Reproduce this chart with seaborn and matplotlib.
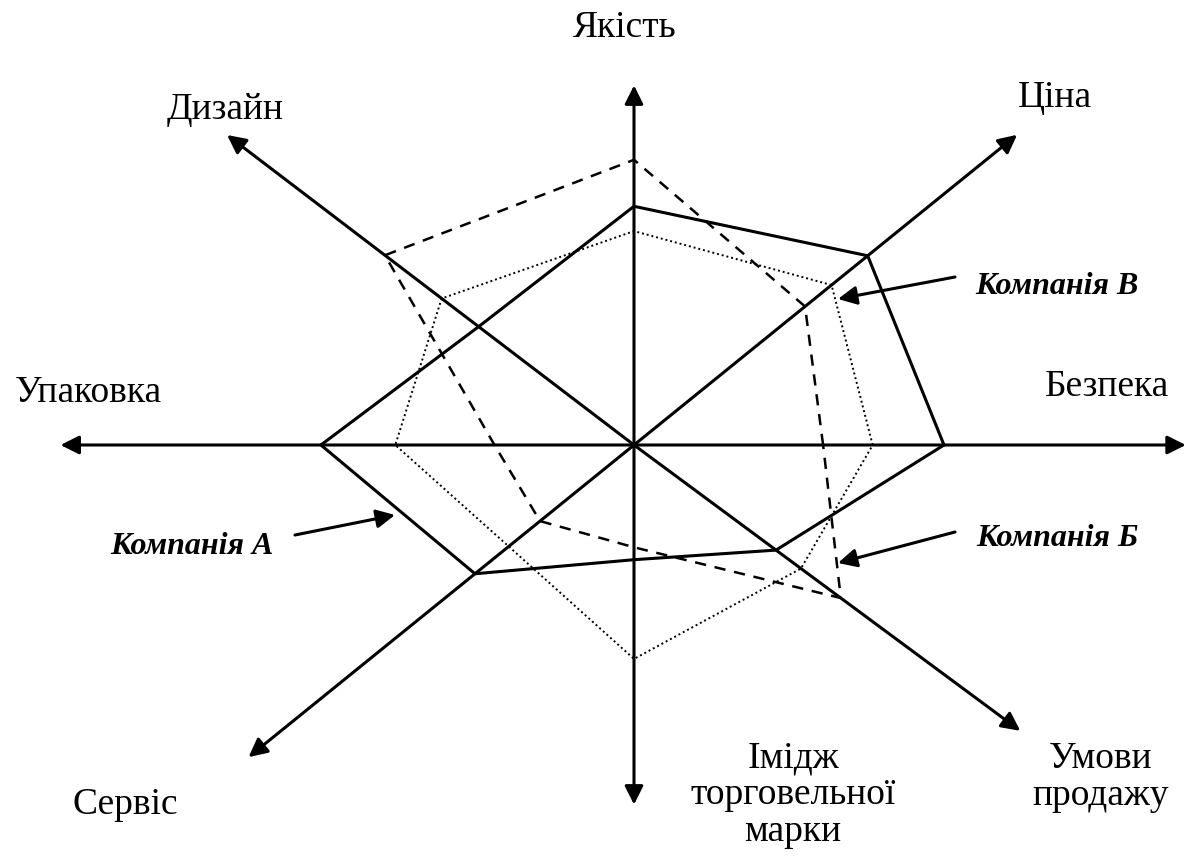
import numpy as np
import pandas as pd
import seaborn as sns
import matplotlib
matplotlib.use('Agg')
import matplotlib.pyplot as plt

# Criteria (axes of the chart), going round counter-clockwise from the right
criteria = ['Безпека', 'Ціна', 'Якість', 'Дизайн', 'Упаковка', 'Сервіс', 'Імідж торговельної марки', 'Умови продажу']

# Scores of the three companies on every criterion
company_a = [10.0, 9.7, 7.7, 6.3, 10.1, 6.6, 3.7, 5.7]
company_b = [6.1, 7.1, 9.2, 10.1, 4.5, 3.9, 3.3, 8.3]
company_v = [7.7, 8.2, 6.9, 7.8, 7.7, 5.2, 6.9, 6.7]

# Geometry of the hand drawn axes (direction in degrees and arrow length)
axis_angles = [0, 39, 90, 142.7, 180, 219, 270, 323.5]
axis_lengths = [17.8, 15.9, 11.6, 16.5, 18.5, 16.0, 11.6, 15.5]

W, H = 1190, 857
CX, CY = 634, 445
UNIT = 31.0

sns.set_style('white')
plt.rcParams['font.family'] = ['Liberation Serif', 'DejaVu Serif']
plt.rcParams['text.color'] = 'black'

fig = plt.figure(figsize=(W / 100, H / 100), dpi=100)
ax = fig.add_axes([0, 0, 1, 1])
ax.set_xlim(-CX / UNIT, (W - CX) / UNIT)
ax.set_ylim(-(H - CY) / UNIT, CY / UNIT)
ax.set_axis_off()

ang = np.radians(axis_angles)

# axes with arrows
for a, l in zip(ang, axis_lengths):
    ax.annotate('', xy=(l * np.cos(a), l * np.sin(a)), xytext=(0, 0),
                arrowprops=dict(arrowstyle='-|>', color='black', lw=2.2,
                                mutation_scale=28, shrinkA=0, shrinkB=0))


def polygon(vals):
    v = np.array(vals + vals[:1])
    a = np.append(ang, ang[0])
    return pd.DataFrame({'x': v * np.cos(a), 'y': v * np.sin(a)})


pa = polygon(company_a)
pb = polygon(company_b)
pv = polygon(company_v)
sns.lineplot(data=pa, x='x', y='y', sort=False, estimator=None, color='black', lw=2.2, ax=ax)
sns.lineplot(data=pb, x='x', y='y', sort=False, estimator=None, color='black', lw=1.8,
             linestyle=(0, (4.5, 3.5)), ax=ax)
sns.lineplot(data=pv, x='x', y='y', sort=False, estimator=None, color='black', lw=1.4,
             linestyle=(0, (1, 1.5)), ax=ax)


def fp(x, y):
    return x / W, 1 - y / H


# axis labels
labels = [
    ('Якість', 625, 28), ('Ціна', 1055, 98), ('Дизайн', 225, 110),
    ('Безпека', 1107, 387), ('Упаковка', 88, 393), ('Сервіс', 125, 805),
    ('Імідж\nторговельної\nмарки', 793, 795), ('Умови\nпродажу', 1101, 777),
]
for t, x, y in labels:
    fig.text(*fp(x, y), t, ha='center', va='center', fontsize=27, linespacing=1.1,
             color='black')

# company captions with pointers
notes = [('Компанія В', 1057, 286, 955, 277, 838, 299),
         ('Компанія Б', 1057, 539, 955, 532, 838, 563),
         ('Компанія А', 192, 547, 295, 535, 395, 515)]
for t, tx, ty, x0, y0, x1, y1 in notes:
    fig.text(*fp(tx, ty), t, ha='center', va='center', fontsize=23,
             fontweight='bold', fontstyle='italic', color='black')
    ax.annotate('', xy=fp(x1, y1), xytext=fp(x0, y0), xycoords='figure fraction',
                textcoords='figure fraction',
                arrowprops=dict(arrowstyle='-|>', color='black', lw=2.2,
                                mutation_scale=28, shrinkA=0, shrinkB=0))

fig.savefig('out.png', dpi=100)
